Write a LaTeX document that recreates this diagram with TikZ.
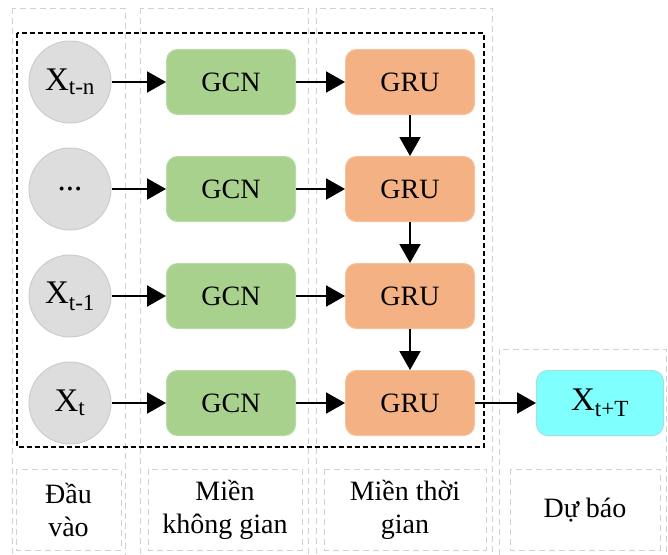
\documentclass[tikz,border=0pt]{standalone}
\usepackage{fontspec}
\setmainfont{Liberation Serif}
\usepackage{xcolor}
\usetikzlibrary{arrows.meta}

\definecolor{gcngreen}{HTML}{A9D18E}
\definecolor{gruorange}{HTML}{F4B183}
\definecolor{outcyan}{HTML}{80FFFF}
\definecolor{inputgray}{HTML}{DDDDDD}
\newcommand{\threedots}{...}

\begin{document}
\begin{tikzpicture}[x=1pt,y=-1pt,
    colbox/.style={draw=black!18,line width=1pt,dash pattern=on 6pt off 4pt},
    inputnode/.style={circle,fill=inputgray,draw=black!20,line width=1pt,
      minimum size=82pt,inner sep=0pt,font=\fontsize{33}{36}\selectfont},
    blockbox/.style={rounded corners=11pt,line width=1pt,minimum width=129pt,
      minimum height=65pt,inner sep=0pt,font=\fontsize{28}{32}\selectfont},
    labeltext/.style={align=center,font=\fontsize{28}{33}\selectfont},
    arr/.style={line width=2pt,-{Triangle[length=19pt,width=21pt]}}]
  \useasboundingbox (0,0) rectangle (668,554);
  % column frames
  \foreach \a/\b in {12/125,140/308,316/492} {
    \draw[colbox] (\a,8) rectangle (\b,562);
  }
  \draw[colbox] (499,349) rectangle (666,562);
  \foreach \a/\b in {16/121,148/302,324/486,510/660} {
    \draw[colbox] (\a,469) rectangle (\b,550);
  }
  % model frame
  \draw[line width=1.6pt,dash pattern=on 5pt off 3pt] (17,33) rectangle (484,447);
  % rows
  \foreach \i/\y/\t in {1/82/X\textsubscript{t-n},2/189/\threedots,3/296/X\textsubscript{t-1},4/403/X\textsubscript{t}} {
    \node[inputnode] (in\i) at (70,\y) {\t};
    \node[blockbox,fill=gcngreen,draw=gcngreen!80!white] (gcn\i) at (231,\y) {GCN};
    \node[blockbox,fill=gruorange,draw=gruorange!80!white] (gru\i) at (410,\y) {GRU};
    \draw[arr] (in\i) -- (gcn\i);
    \draw[arr] (gcn\i) -- (gru\i);
  }
  \foreach \i/\j in {1/2,2/3,3/4} {
    \draw[arr] (gru\i) -- (gru\j);
  }
  \node[blockbox,fill=outcyan,draw=outcyan!80!black!60,minimum width=127pt,
    font=\fontsize{33}{36}\selectfont] (out) at (600,403) {X\textsubscript{t+T}};
  \draw[arr] (gru4) -- (out);
  % column labels
  \node[labeltext] (lbin) at (68.5,510) {Đầu\\vào};
  \node[labeltext] (lbspace) at (225,510) {Miền\\không gian};
  \node[labeltext] (lbtime) at (405,510) {Miền thời\\gian};
  \node[labeltext] (lbpred) at (585,510) {Dự báo};
\end{tikzpicture}
\end{document}
